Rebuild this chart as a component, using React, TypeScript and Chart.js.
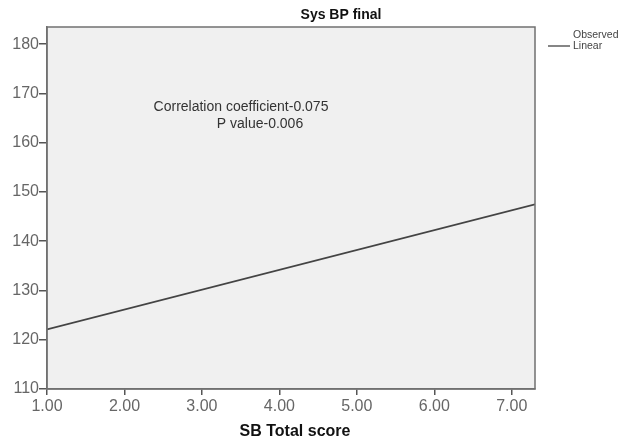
import React, { useEffect, useRef } from "react";
import { Chart, registerables } from "chart.js";

Chart.register(...registerables);

const chartTitle = "Sys BP final";
const xAxisTitle = "SB Total score";
const annotationLines = ["Correlation coefficient-0.075", "P value-0.006"];
const legendLabels = ["Observed", "Linear"];

const xRange = [1, 7.3];
const yRange = [110, 183.5];
const xTickValues = [1, 2, 3, 4, 5, 6, 7];
const yTickValues = [110, 120, 130, 140, 150, 160, 170, 180];

const linearX = [1, 7.3];
const linearY = [122.1, 147.5];

const FONT = "'Liberation Sans', Arial, sans-serif";

const decorPlugin = {
  id: "decor",
  beforeDraw(chart: any) {
    const { ctx, chartArea } = chart;
    ctx.save();
    ctx.fillStyle = "#f0f0f0";
    ctx.fillRect(chartArea.left, chartArea.top, chartArea.right - chartArea.left, chartArea.bottom - chartArea.top);
    ctx.restore();
  },
  afterDraw(chart: any) {
    const { ctx, chartArea } = chart;
    ctx.save();
    ctx.strokeStyle = "#707070";
    ctx.lineWidth = 1.5;
    ctx.strokeRect(chartArea.left, chartArea.top, chartArea.right - chartArea.left, chartArea.bottom - chartArea.top);
    ctx.fillStyle = "#111";
    ctx.font = `bold 14px ${FONT}`;
    ctx.textAlign = "center";
    ctx.textBaseline = "middle";
    ctx.fillText(chartTitle, 341, 15);
    ctx.fillStyle = "#333";
    ctx.font = `14px ${FONT}`;
    ctx.fillText(annotationLines[0], 241, 107);
    ctx.fillText(annotationLines[1], 260, 124);
    ctx.fillStyle = "#111";
    ctx.font = `bold 16px ${FONT}`;
    ctx.fillText(xAxisTitle, 295, 432);
    ctx.fillStyle = "#444";
    ctx.font = `10.5px ${FONT}`;
    ctx.textAlign = "left";
    ctx.fillText(legendLabels[0], 573, 35);
    ctx.fillText(legendLabels[1], 573, 46);
    ctx.strokeStyle = "#444";
    ctx.lineWidth = 1.3;
    ctx.beginPath();
    ctx.moveTo(548, 46);
    ctx.lineTo(570, 46);
    ctx.stroke();
    ctx.restore();
  },
};

export default function App() {
  const ref = useRef<HTMLCanvasElement | null>(null);

  useEffect(() => {
    if (!ref.current) return;
    const chart = new Chart(ref.current, {
      type: "scatter",
      data: {
        datasets: [
          {
            label: legendLabels[1],
            data: linearX.map((x, i) => ({ x, y: linearY[i] })),
            showLine: true,
            borderColor: "#444",
            borderWidth: 1.6,
            pointRadius: 0,
            fill: false,
          },
        ],
      },
      options: {
        animation: false,
        responsive: false,
        maintainAspectRatio: false,
        layout: { padding: { top: 27, right: 96, left: 0, bottom: 0 } },
        plugins: {
          legend: { display: false },
          title: { display: false },
          tooltip: { enabled: false },
        },
        scales: {
          x: {
            type: "linear",
            min: xRange[0],
            max: xRange[1],
            afterFit: (s: any) => {
              s.height = 55;
            },
            afterBuildTicks: (s: any) => {
              s.ticks = xTickValues.map((v) => ({ value: v }));
            },
            ticks: {
              color: "#666",
              font: { family: FONT, size: 16 },
              padding: 2,
              maxRotation: 0,
              autoSkip: false,
              callback: (v: any) => Number(v).toFixed(2),
            },
            grid: { drawOnChartArea: false, drawTicks: true, tickLength: 6, color: "#555", lineWidth: 1.5 },
            border: { display: true, color: "#707070", width: 1.5 },
          },
          y: {
            type: "linear",
            min: yRange[0],
            max: yRange[1],
            afterFit: (s: any) => {
              s.width = 47;
            },
            afterBuildTicks: (s: any) => {
              s.ticks = yTickValues.map((v) => ({ value: v }));
            },
            ticks: {
              color: "#666",
              font: { family: FONT, size: 16 },
              padding: 0,
              autoSkip: false,
              callback: (v: any) => String(v),
            },
            grid: { drawOnChartArea: false, drawTicks: true, tickLength: 8, color: "#555", lineWidth: 1.5 },
            border: { display: true, color: "#707070", width: 1.5 },
          },
        },
      },
      plugins: [decorPlugin],
    });
    return () => chart.destroy();
  }, []);

  return (
    <div style={{ position: "absolute", left: 0, top: 0, width: 631, height: 444, background: "#fff" }}>
      <canvas ref={ref} width={631} height={444} style={{ display: "block" }} />
    </div>
  );
}
